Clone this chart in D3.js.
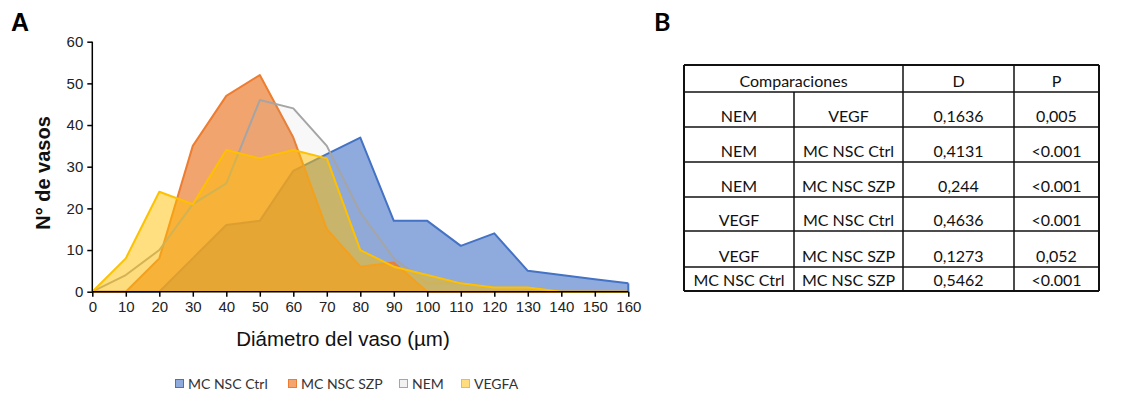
<!DOCTYPE html>
<html><head><meta charset="utf-8">
<script src="https://cdn.jsdelivr.net/npm/d3@7"></script>
<style>body{margin:0;background:#fff}svg{display:block}</style>
</head><body><svg id="c" width="1123" height="400"></svg>
<script>
const diam = [0,10,20,30,40,50,60,70,80,90,100,110,120,130,140,150,160];
const ctrl = [0,0,0,8,16,17,29,33,37,17,17,11,14,5,4,3,2];
const szp  = [0,0,8,35,47,52,37,15,6,7,0,0,0,0,0,0,0];
const nem  = [0,4,10,21,26,46,44,35,19,8,2,2,1,1,0,0,0];
const vegfa= [0,8,24,21,34,32,34,32,10,6,4,2,1,1,0,0,0];
const seriesNames = ["MC NSC Ctrl","MC NSC SZP","NEM","VEGFA"];
const yTicks = [0,10,20,30,40,50,60];
const tableHeader = ["Comparaciones","D","P"];
const compA = ["NEM","NEM","NEM","VEGF","VEGF","MC NSC Ctrl"];
const compB = ["VEGF","MC NSC Ctrl","MC NSC SZP","MC NSC Ctrl","MC NSC SZP","MC NSC SZP"];
const dVals = ["0,1636","0,4131","0,244","0,4636","0,1273","0,5462"];
const pVals = ["0,005","<0.001","<0.001","<0.001","0,052","<0.001"];

const svg = d3.select("#c");
const x = d3.scaleLinear().domain([0,160]).range([92.3,628.3]);
const y = d3.scaleLinear().domain([0,60]).range([291.7,41.7]);

const styles = [
  {data:ctrl, stroke:"#4472C4", fill:"#4472C4", op:0.6},
  {data:szp, stroke:"#ED7D31", fill:"#ED7D31", op:0.7},
  {data:nem, stroke:"#A5A5A5", fill:"#A5A5A5", op:0.08},
  {data:vegfa, stroke:"#FFC000", fill:"#FFC000", op:0.5}
];
const area = d3.area().x((d,i)=>x(diam[i])).y0(y(0)).y1(d=>y(d));
const line = d3.line().x((d,i)=>x(diam[i])).y(d=>y(d));
styles.forEach(s=>{
  svg.append("path").attr("d",area(s.data)).attr("fill",s.fill).attr("fill-opacity",s.op);
  svg.append("path").attr("d",line(s.data)).attr("fill","none").attr("stroke",s.stroke).attr("stroke-width",2).attr("stroke-linejoin","round");
});
svg.append("line").attr("x1",x(160)).attr("x2",x(160)).attr("y1",y(ctrl[16])).attr("y2",y(0)).attr("stroke","#4472C4").attr("stroke-width",2);

const font = "'Liberation Sans', Arial, sans-serif";
const ya = svg.append("g").attr("transform",`translate(${x(0)},0)`)
  .call(d3.axisLeft(y).tickValues(yTicks).tickSize(5).tickSizeOuter(0).tickPadding(4));
const xa = svg.append("g").attr("transform",`translate(0,${y(0)})`)
  .call(d3.axisBottom(x).tickValues(diam).tickSize(5).tickSizeOuter(0).tickPadding(5));
[ya,xa].forEach(g=>{
  g.selectAll("path,line").attr("stroke","#000").attr("stroke-width",1.5);
  g.selectAll("text").attr("font-family",font).attr("font-size",15).attr("fill","#222");
});
ya.select(".domain").attr("d",`M0,${y(0)}V${y(60)}`);
xa.select(".domain").attr("d",`M${x(0)},0H${x(160)}`);

svg.append("text").attr("x",343).attr("y",346).attr("text-anchor","middle")
  .attr("font-family",font).attr("font-size",20.5).attr("fill","#111").text("Diámetro del vaso (µm)");
svg.append("text").attr("transform","translate(50,173) rotate(-90)").attr("text-anchor","middle")
  .attr("font-family",font).attr("font-size",20).attr("font-weight","bold").attr("fill","#111").text("N° de vasos");
svg.append("text").attr("x",11).attr("y",31).attr("font-family",font).attr("font-size",25).attr("font-weight","bold").text("A");
svg.append("text").attr("x",654).attr("y",31).attr("font-family","Lato, 'Open Sans', sans-serif").attr("font-size",25).attr("font-weight","bold").text("B");

// legend
const lf = "Lato, 'Open Sans', sans-serif";
const legX = [175,288,399,461];
const legFill = ["#8FAADC","#F4A46F","#F2F2F2","#FFDD7F"];
seriesNames.forEach((n,i)=>{
  svg.append("rect").attr("x",legX[i]+0.5).attr("y",379.5).attr("width",8).attr("height",8)
    .attr("fill",legFill[i]).attr("stroke",styles[i].stroke).attr("stroke-width",1);
  svg.append("text").attr("x",legX[i]+13).attr("y",388.5).attr("font-family",lf).attr("font-size",14).attr("fill","#333").text(n);
});

// table
const colX = [684,794,903,1014,1099];
const rowY = [65,92,127,162,197,231,267,291];
const tg = svg.append("g").attr("font-family",lf).attr("font-size",16).attr("fill","#111");
rowY.forEach((ry,i)=>{
  tg.append("line").attr("x1",colX[0]).attr("x2",colX[4]).attr("y1",ry).attr("y2",ry)
    .attr("stroke","#111").attr("stroke-width",(i==0||i==rowY.length-1)?2:1.5);
});
colX.forEach((cx,i)=>{
  tg.append("line").attr("x1",cx).attr("x2",cx).attr("y1",i==1?rowY[1]:rowY[0]).attr("y2",rowY[7])
    .attr("stroke","#111").attr("stroke-width",(i==0||i==4)?2:1.5);
});
const mid = (a,b)=>(a+b)/2;
const hx = [mid(colX[0],colX[2]), mid(colX[2],colX[3]), mid(colX[3],colX[4])];
tableHeader.forEach((t,i)=>{
  tg.append("text").attr("x",hx[i]).attr("y",rowY[1]-5.5).attr("text-anchor","middle").text(t);
});
compA.forEach((a,r)=>{
  const by = rowY[r+2]-5.5;
  const vals=[a,compB[r],dVals[r],pVals[r]];
  vals.forEach((v,c)=>{
    tg.append("text").attr("x",mid(colX[c],colX[c+1])).attr("y",by).attr("text-anchor","middle").text(v);
  });
});
</script></body></html>
